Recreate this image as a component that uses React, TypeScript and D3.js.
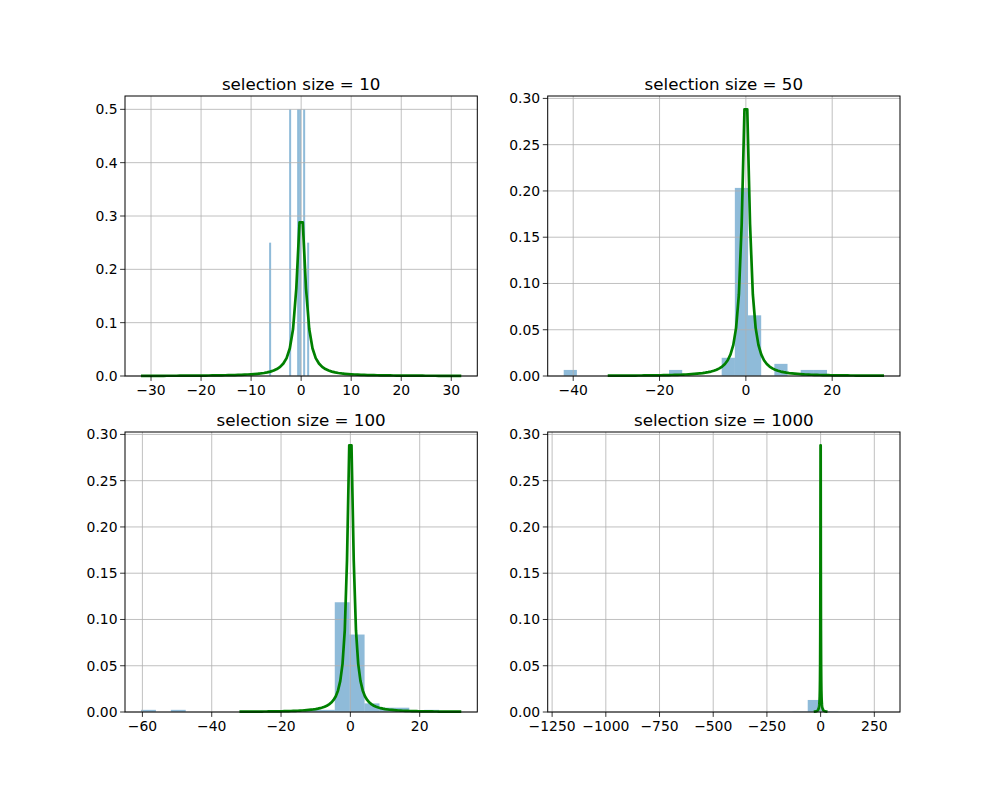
import React from "react";
import * as d3 from "d3";

// histogram data: first bin edge, bin width, counts per bin (density = count / (n * width))
const titles = ["selection size = 10", "selection size = 50", "selection size = 100", "selection size = 1000"];
const sampleSizes = [10, 50, 100, 1000];
const binStarts = [-6.4, -42.2, -60.4, -1196];
const binWidths = [0.4, 3.05, 4.3, 71];
const counts10 = [1, 0, 0, 0, 0, 0, 0, 0, 0, 0, 2, 0, 0, 0, 2, 2, 0, 2, 0, 1];
const counts50 = [1, 0, 0, 0, 0, 0, 0, 0, 1, 0, 0, 0, 3, 31, 10, 0, 2, 0, 1, 1];
const counts100 = [1, 0, 1, 0, 0, 0, 0, 0, 0, 0, 0, 1, 1, 51, 36, 4, 2, 2, 0, 1];
const counts1000 = [1, 0, 0, 0, 0, 0, 0, 0, 0, 0, 0, 0, 0, 2, 8, 30, 923, 30, 4, 1, 1];
const allCounts = [counts10, counts50, counts100, counts1000];

const xTicks = [
  [-30, -20, -10, 0, 10, 20, 30],
  [-40, -20, 0, 20],
  [-60, -40, -20, 0, 20],
  [-1250, -1000, -750, -500, -250, 0, 250],
];
const yTicks = [
  [0, 0.1, 0.2, 0.3, 0.4, 0.5],
  [0, 0.05, 0.1, 0.15, 0.2, 0.25, 0.3],
  [0, 0.05, 0.1, 0.15, 0.2, 0.25, 0.3],
  [0, 0.05, 0.1, 0.15, 0.2, 0.25, 0.3],
];
const yFormats = [".1f", ".2f", ".2f", ".2f"];

// theoretical Cauchy density on a 100-point grid
const curveX = d3.range(100).map((i) => -32 + (64 * i) / 99);
const cauchy = (x: number) => 1 / (Math.PI * (1 + x * x));

const W = 1000;
const H = 800;
const axW = 352.3;
const axH = 280;
const lefts = [125, 547.7];
const tops = [96, 432];
const font = "DejaVu Sans, sans-serif";
const minus = (s: string) => s.replace("-", "\u2212");

function Panel({ idx }: { idx: number }) {
  const x0 = lefts[idx % 2];
  const y0 = tops[Math.floor(idx / 2)];
  const n = sampleSizes[idx];
  const w = binWidths[idx];
  const start = binStarts[idx];
  const counts = allCounts[idx];
  const bins = counts.map((c, i) => ({ a: start + i * w, b: start + (i + 1) * w, d: c / (n * w) }));
  const end = start + counts.length * w;
  const lo = Math.min(start, -32);
  const hi = Math.max(end, 32);
  const pad = (hi - lo) * 0.05;
  const x = d3.scaleLinear().domain([lo - pad, hi + pad]).range([0, axW]);
  const yMax = Math.max(d3.max(bins, (b) => b.d)!, d3.max(curveX, cauchy)!) * 1.05;
  const y = d3.scaleLinear().domain([0, yMax]).range([axH, 0]);
  const line = d3.line<number>().x((v) => x(v)).y((v) => y(cauchy(v)))(curveX)!;
  const fmt = d3.format(yFormats[idx]);
  return (
    <g transform={`translate(${x0},${y0})`}>
      {bins.filter((b) => b.d > 0).map((b, i) => (
        <rect key={i} x={x(b.a)} width={x(b.b) - x(b.a)} y={y(b.d)} height={axH - y(b.d)} fill="#1f77b4" fillOpacity={0.5} />
      ))}
      {xTicks[idx].map((t) => (
        <line key={"gx" + t} x1={x(t)} x2={x(t)} y1={0} y2={axH} stroke="#b0b0b0" strokeWidth={0.8} />
      ))}
      {yTicks[idx].map((t) => (
        <line key={"gy" + t} x1={0} x2={axW} y1={y(t)} y2={y(t)} stroke="#b0b0b0" strokeWidth={0.8} />
      ))}
      <path d={line} fill="none" stroke="green" strokeWidth={2.7} strokeLinejoin="round" />
      <rect x={0} y={0} width={axW} height={axH} fill="none" stroke="black" strokeWidth={1} />
      {xTicks[idx].map((t) => (
        <g key={"tx" + t} transform={`translate(${x(t)},${axH})`}>
          <line y2={4.9} stroke="black" strokeWidth={0.8} />
          <text y={19} textAnchor="middle" fontSize={13.9} fontFamily={font}>{minus(String(t))}</text>
        </g>
      ))}
      {yTicks[idx].map((t) => (
        <g key={"ty" + t} transform={`translate(0,${y(t)})`}>
          <line x2={-4.9} stroke="black" strokeWidth={0.8} />
          <text x={-7.5} dy="0.35em" textAnchor="end" fontSize={13.9} fontFamily={font}>{fmt(t)}</text>
        </g>
      ))}
      <text x={axW / 2} y={-6.5} textAnchor="middle" fontSize={16.7} fontFamily={font}>{titles[idx]}</text>
    </g>
  );
}

export default function App() {
  return (
    <svg width={W} height={H} style={{ display: "block", margin: -8 }} viewBox={`0 0 ${W} ${H}`}>
      <rect width={W} height={H} fill="white" />
      {[0, 1, 2, 3].map((i) => (
        <Panel key={i} idx={i} />
      ))}
    </svg>
  );
}
